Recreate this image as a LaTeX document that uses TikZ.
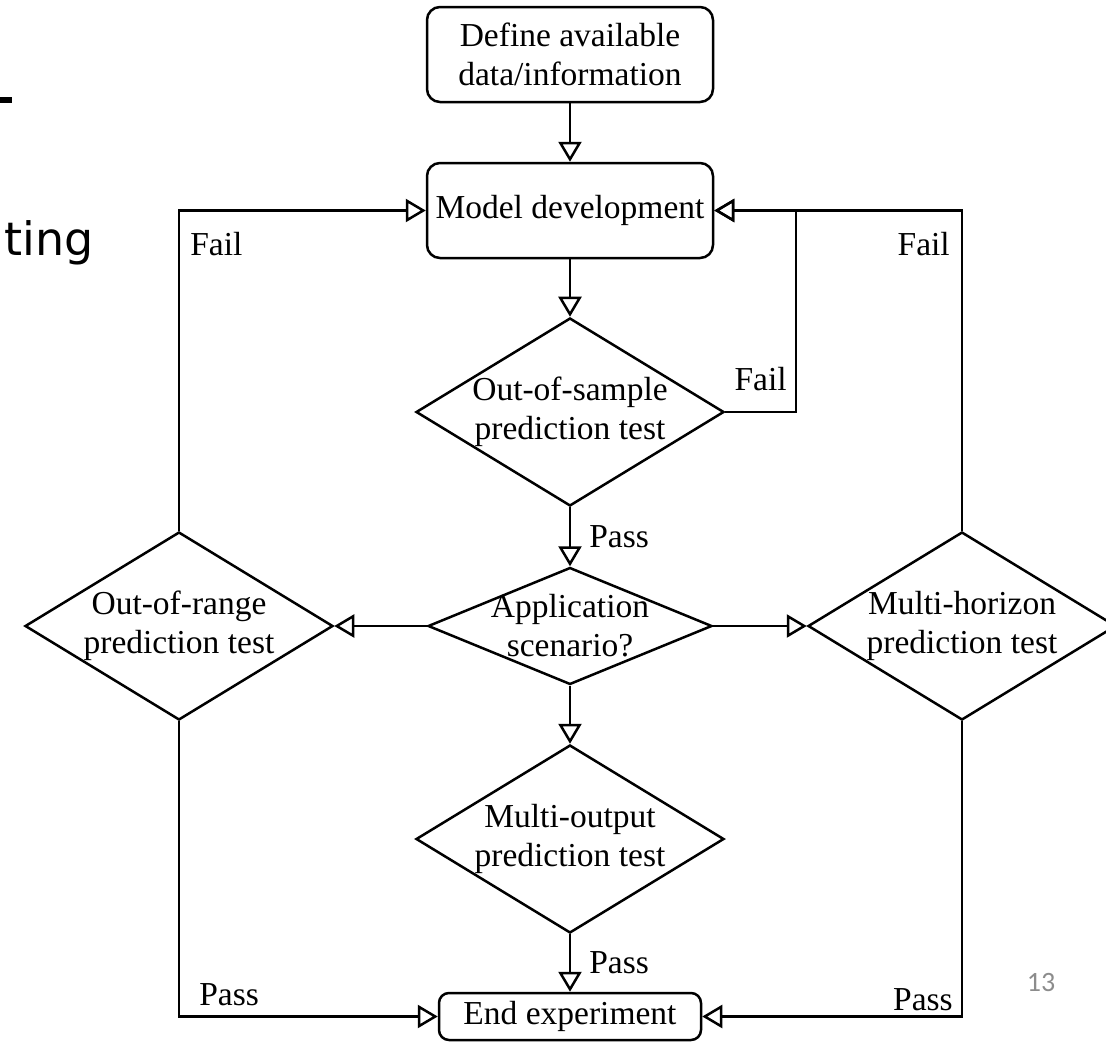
\documentclass[tikz,border=0pt]{standalone}
\usepackage{fontspec}
\setmainfont{Liberation Serif}
\newfontfamily\slidefont{DejaVu Sans}
\newfontfamily\pagefont{Carlito}
\usepackage{xcolor}
\usepackage{tikz}
\usetikzlibrary{positioning,arrows.meta,shapes.geometric}
\definecolor{pagegrey}{HTML}{8C8C8C}

\begin{document}
\begin{tikzpicture}[
  x=1pt, y=-1pt,
  line width=2.5pt,
  every node/.style={font=\fontsize{33.5}{39}\selectfont},
  block/.style={draw, rounded corners=13pt, minimum width=286pt, minimum height=95pt, align=center, inner sep=0pt},
  test/.style={draw, diamond, minimum width=308pt, minimum height=188pt, aspect=1.64, inner sep=-10pt, align=center},
  flow/.style={-{Triangle[open, length=20pt, width=23pt]}},
  lbl/.style={inner sep=0pt}
]
  \useasboundingbox (0,0) rectangle (1106,1042);

  % leftovers of the slide behind the chart
  \fill (0,97) rectangle (12,103);
  \node[font=\slidefont\fontsize{46}{50}\selectfont, anchor=base east, inner sep=0pt] (ting) at (95,255) {ting};
  \node[font=\pagefont\fontsize{28}{30}\selectfont, text=pagegrey, anchor=base, inner sep=0pt] (pagenum) at (1041,991) {13};

  % main chain
  \node[block] (define) at (570,54.5) {Define available\\data/information};
  \node[block] (model) at (570,210.5) {Model development};
  \node[test] (oos) at (570,412) {Out-of-sample\\prediction test};
  \node[test, minimum width=284pt, minimum height=117pt, aspect=2.43] (app) at (570,626) {Application\\scenario?};
  \node[test] (oor) at (179,626) {Out-of-range\\prediction test};
  \node[test] (mh) at (962,626) {Multi-horizon\\prediction test};
  \node[test] (mo) at (570,839) {Multi-output\\prediction test};
  \node[block, rounded corners=10pt, minimum width=262pt, minimum height=47pt] (endexp) at (570,1016.5) {End experiment};
  \coordinate (failturn) at (796,412);

  \draw[flow] (define) -- (model);
  \draw[flow] (model) -- (oos);
  \draw[flow] (oos) -- node[lbl, right=18pt]{Pass} (app);
  \draw[flow] (oos.east) -- node[lbl, above=20pt]{Fail} (failturn) |- (model.east);
  \draw[flow] (app) -- (oor);
  \draw[flow] (app) -- (mh);
  \draw[flow] (app) -- (mo);
  \draw[flow] (mo) -- node[lbl, right=18pt]{Pass} (endexp);

  \draw[flow] (oor.north) |- node[lbl, pos=0.5, below right=20pt and 10pt]{Fail} (model.west);
  \draw[flow] (mh.north) |- node[lbl, pos=0.5, below left=20pt and 11pt]{Fail} (model.east);
  \draw[flow] (oor.south) |- node[lbl, pos=0.5, above right=9pt and 19pt]{Pass} (endexp.west);
  \draw[flow] (mh.south) |- node[lbl, pos=0.5, above left=4pt and 8pt]{Pass} (endexp.east);

\end{tikzpicture}
\end{document}
